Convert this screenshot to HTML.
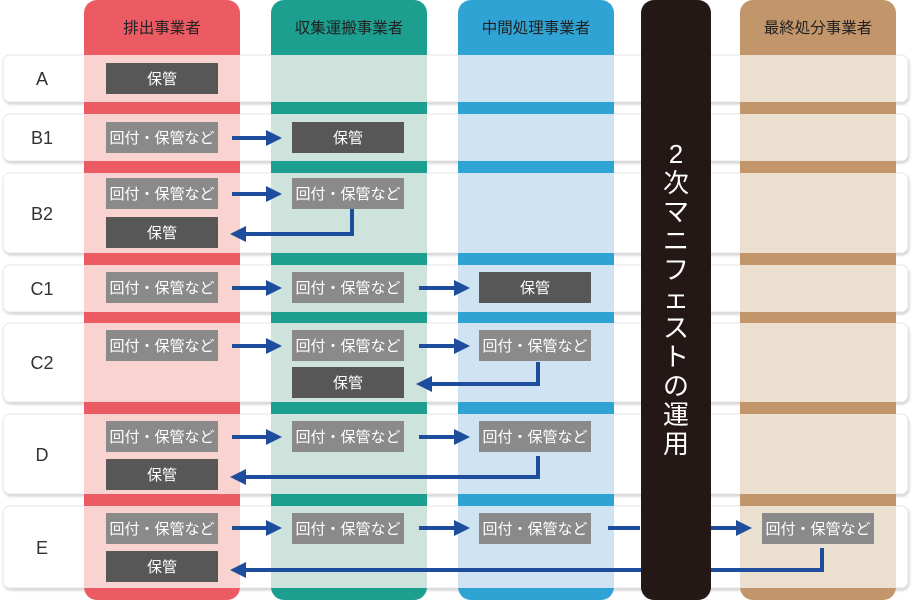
<!DOCTYPE html>
<html><head><meta charset="utf-8"><style>
html,body{margin:0;padding:0;background:#fff;width:912px;height:600px;overflow:hidden}
svg{display:block}
text{font-family:"Liberation Sans","Noto Sans CJK JP",sans-serif}
</style></head><body>
<svg width="912" height="600" viewBox="0 0 912 600" xmlns="http://www.w3.org/2000/svg">
<defs>
<filter id="sh" x="-5%" y="-20%" width="110%" height="150%"><feDropShadow dx="1" dy="2" stdDeviation="1.2" flood-color="#000" flood-opacity="0.18"/></filter>
<marker id="ah" markerWidth="4" markerHeight="4" refX="0" refY="2" orient="auto" markerUnits="strokeWidth"><path d="M0,0 L4,2 L0,4 Z" fill="#1f4d9e"/></marker>
</defs>
<g fill="#fff" stroke="#e6e6e6" stroke-width="1" filter="url(#sh)">
<rect x="3" y="55" width="905" height="47" rx="7"/>
<rect x="3" y="114" width="905" height="47" rx="7"/>
<rect x="3" y="173" width="905" height="80" rx="7"/>
<rect x="3" y="265" width="905" height="47" rx="7"/>
<rect x="3" y="323" width="905" height="79" rx="7"/>
<rect x="3" y="414" width="905" height="80" rx="7"/>
<rect x="3" y="506" width="905" height="82" rx="7"/>
</g>
<rect x="84" y="0" width="156" height="600" rx="13" fill="#ec5a63"/>
<rect x="271" y="0" width="156" height="600" rx="13" fill="#1c9f8f"/>
<rect x="458" y="0" width="156" height="600" rx="13" fill="#2ea3d4"/>
<rect x="740" y="0" width="156" height="600" rx="13" fill="#c2956a"/>
<g fill="#f8d3cf"><rect x="84" y="55" width="156" height="47"/><rect x="84" y="114" width="156" height="47"/><rect x="84" y="173" width="156" height="80"/><rect x="84" y="265" width="156" height="47"/><rect x="84" y="323" width="156" height="79"/><rect x="84" y="414" width="156" height="80"/><rect x="84" y="506" width="156" height="82"/></g>
<g fill="#cfe3dd"><rect x="271" y="55" width="156" height="47"/><rect x="271" y="114" width="156" height="47"/><rect x="271" y="173" width="156" height="80"/><rect x="271" y="265" width="156" height="47"/><rect x="271" y="323" width="156" height="79"/><rect x="271" y="414" width="156" height="80"/><rect x="271" y="506" width="156" height="82"/></g>
<g fill="#cfe3f2"><rect x="458" y="55" width="156" height="47"/><rect x="458" y="114" width="156" height="47"/><rect x="458" y="173" width="156" height="80"/><rect x="458" y="265" width="156" height="47"/><rect x="458" y="323" width="156" height="79"/><rect x="458" y="414" width="156" height="80"/><rect x="458" y="506" width="156" height="82"/></g>
<g fill="#ebdfcf"><rect x="740" y="55" width="156" height="47"/><rect x="740" y="114" width="156" height="47"/><rect x="740" y="173" width="156" height="80"/><rect x="740" y="265" width="156" height="47"/><rect x="740" y="323" width="156" height="79"/><rect x="740" y="414" width="156" height="80"/><rect x="740" y="506" width="156" height="82"/></g>
<g font-size="15.5" fill="#222" text-anchor="middle">
<text x="162" y="33">排出事業者</text>
<text x="349" y="33">収集運搬事業者</text>
<text x="536" y="33">中間処理事業者</text>
<text x="818" y="33">最終処分事業者</text>
</g>
<g font-size="18" fill="#333" text-anchor="middle">
<text x="42" y="85">A</text>
<text x="42" y="144">B1</text>
<text x="42" y="220">B2</text>
<text x="42" y="295">C1</text>
<text x="42" y="369">C2</text>
<text x="42" y="461">D</text>
<text x="42" y="554">E</text>
</g>
<g stroke="#1f4d9e" stroke-width="4" fill="none">
<path d="M232 138 H266" marker-end="url(#ah)"/>
<path d="M232 194 H266" marker-end="url(#ah)"/>
<path d="M352 209 V234 H246" marker-end="url(#ah)"/>
<path d="M232 288 H266" marker-end="url(#ah)"/>
<path d="M419 288 H454" marker-end="url(#ah)"/>
<path d="M232 346 H266" marker-end="url(#ah)"/>
<path d="M419 346 H454" marker-end="url(#ah)"/>
<path d="M538 362 V384 H432" marker-end="url(#ah)"/>
<path d="M232 437 H266" marker-end="url(#ah)"/>
<path d="M419 437 H454" marker-end="url(#ah)"/>
<path d="M538 456 V477 H246" marker-end="url(#ah)"/>
<path d="M232 528 H266" marker-end="url(#ah)"/>
<path d="M419 528 H454" marker-end="url(#ah)"/>
<path d="M608 528 H640"/>
<path d="M711 528 H736" marker-end="url(#ah)"/>
<path d="M822 548 V570 H246" marker-end="url(#ah)"/>
</g>
<rect x="641" y="0" width="70" height="600" rx="13" fill="#231815"/>
<g font-size="26" fill="#fff" text-anchor="middle">
<text x="676" y="163">2</text>
<text x="676" y="192">次</text>
<text x="676" y="221">マ</text>
<text x="676" y="250">ニ</text>
<text x="676" y="279">フ</text>
<text x="676" y="308">ェ</text>
<text x="676" y="337">ス</text>
<text x="676" y="366">ト</text>
<text x="676" y="395">の</text>
<text x="676" y="424">運</text>
<text x="676" y="453">用</text>
</g>
<g fill="#575757">
<rect x="106" y="63" width="112" height="31"/>
<rect x="292" y="122" width="112" height="31"/>
<rect x="106" y="217" width="112" height="31"/>
<rect x="479" y="272" width="112" height="31"/>
<rect x="292" y="367" width="112" height="31"/>
<rect x="106" y="459" width="112" height="31"/>
<rect x="106" y="551" width="112" height="31"/>
</g>
<g fill="#8a8a8a">
<rect x="106" y="122" width="112" height="31"/>
<rect x="106" y="178" width="112" height="31"/>
<rect x="292" y="178" width="112" height="31"/>
<rect x="106" y="272" width="112" height="31"/>
<rect x="292" y="272" width="112" height="31"/>
<rect x="106" y="330" width="112" height="31"/>
<rect x="292" y="330" width="112" height="31"/>
<rect x="479" y="330" width="112" height="31"/>
<rect x="106" y="421" width="112" height="31"/>
<rect x="292" y="421" width="112" height="31"/>
<rect x="479" y="421" width="112" height="31"/>
<rect x="106" y="513" width="112" height="31"/>
<rect x="292" y="513" width="112" height="31"/>
<rect x="479" y="513" width="112" height="31"/>
<rect x="762" y="513" width="112" height="31"/>
</g>
<g font-size="15" fill="#fff" text-anchor="middle">
<text x="162" y="84">保管</text>
<text x="348" y="143">保管</text>
<text x="162" y="238">保管</text>
<text x="535" y="293">保管</text>
<text x="348" y="388">保管</text>
<text x="162" y="480">保管</text>
<text x="162" y="572">保管</text>
<text x="162" y="143">回付・保管など</text>
<text x="162" y="199">回付・保管など</text>
<text x="348" y="199">回付・保管など</text>
<text x="162" y="293">回付・保管など</text>
<text x="348" y="293">回付・保管など</text>
<text x="162" y="351">回付・保管など</text>
<text x="348" y="351">回付・保管など</text>
<text x="535" y="351">回付・保管など</text>
<text x="162" y="442">回付・保管など</text>
<text x="348" y="442">回付・保管など</text>
<text x="535" y="442">回付・保管など</text>
<text x="162" y="534">回付・保管など</text>
<text x="348" y="534">回付・保管など</text>
<text x="535" y="534">回付・保管など</text>
<text x="818" y="534">回付・保管など</text>
</g>
</svg>
</body></html>
